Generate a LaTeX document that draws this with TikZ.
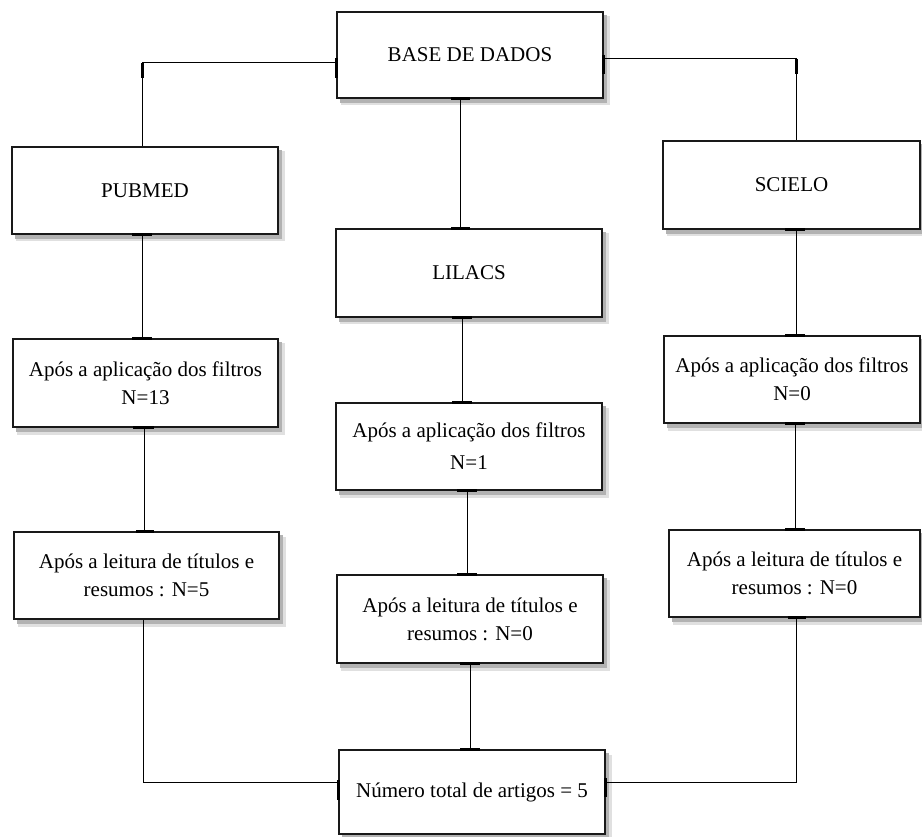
\documentclass[tikz,border=0pt]{standalone}
\usepackage{fontspec}
\setmainfont{Liberation Serif}
\begin{document}
\begin{tikzpicture}[x=1pt,y=-1pt,
  box/.style={draw=black!90, line width=1.6pt, fill=white, align=center, inner sep=2pt,
    font=\fontsize{21}{28}\selectfont,
    preaction={draw=black!12, fill=black!12, line width=3pt, transform canvas={shift={(5pt,-6pt)}}},
    preaction={draw=black!30, fill=black!30, line width=1.6pt, transform canvas={shift={(3.5pt,-4pt)}}}},
  conn/.style={draw=black, line width=1pt},
  tk/.style={draw=black, line width=3pt}]
\useasboundingbox (0,0) rectangle (922,837);
\coordinate (cl) at (142,63);
\coordinate (cr) at (796,59);
\coordinate (bl) at (143,782);
\coordinate (br) at (796,782);
\node[box, minimum width=266pt, minimum height=86pt] (base) at (470,55) {BASE DE DADOS};
\node[box, minimum width=266pt, minimum height=87pt] (pubmed) at (145,190.5) {PUBMED};
\node[box, minimum width=266pt, minimum height=88pt] (lilacs) at (469,273) {LILACS};
\node[box, minimum width=257pt, minimum height=88pt] (scielo) at (791.5,185) {SCIELO};
\node[box, minimum width=265pt, minimum height=88pt] (pf) at (145.5,383) {Após a aplicação dos filtros\\N=13};
\node[box, minimum width=266pt, minimum height=87pt, font=\fontsize{21}{32}\selectfont] (lf) at (469,446.5) {Após a aplicação dos filtros\\N=1};
\node[box, minimum width=256pt, minimum height=87pt] (sf) at (792,379.5) {Após a aplicação dos filtros\\N=0};
\node[box, minimum width=265pt, minimum height=87pt] (pl) at (146.5,575.5) {Após a leitura de títulos e\\resumos : N=5};
\node[box, minimum width=266pt, minimum height=88pt] (ll) at (470,619) {Após a leitura de títulos e\\resumos : N=0};
\node[box, minimum width=251pt, minimum height=87pt] (sl) at (794.5,573.5) {Após a leitura de títulos e\\resumos : N=0};
\node[box, minimum width=266pt, minimum height=84pt] (total) at (472,792) {Número total de artigos = 5};
% connectors
\draw[conn] (base.west |- cl) -- (cl) -- (cl |- pubmed.north);
\draw[conn] (base.east |- cr) -- (cr) -- (cr |- scielo.north);
\draw[conn] (460,0 |- base.south) -- (460,0 |- lilacs.north);
\draw[conn] (142,0 |- pubmed.south) -- (142,0 |- pf.north);
\draw[conn] (144,0 |- pf.south) -- (144,0 |- pl.north);
\draw[conn] (bl |- pl.south) -- (bl) -- (total.west |- bl);
\draw[conn] (462,0 |- lilacs.south) -- (462,0 |- lf.north);
\draw[conn] (467,0 |- lf.south) -- (467,0 |- ll.north);
\draw[conn] (470,0 |- ll.south) -- (470,0 |- total.north);
\draw[conn] (796,0 |- scielo.south) -- (796,0 |- sf.north);
\draw[conn] (795,0 |- sf.south) -- (795,0 |- sl.north);
\draw[conn] (br |- sl.south) -- (br) -- (total.east |- br);
% ticks
\draw[tk] (base.west |- 0,58) -- (base.west |- 0,78);
\draw[tk] (base.east |- 0,55) -- (base.east |- 0,74);
\draw[tk] (cl) -- ++(0,15);
\draw[tk] (cr) -- ++(0,15);
\draw[tk] (451,0 |- base.south) -- (470,0 |- base.south);
\draw[tk] (451,0 |- lilacs.north) -- (470,0 |- lilacs.north);
\draw[tk] (452,0 |- lilacs.south) -- (472,0 |- lilacs.south);
\draw[tk] (452,0 |- lf.north) -- (472,0 |- lf.north);
\draw[tk] (457,0 |- lf.south) -- (477,0 |- lf.south);
\draw[tk] (457,0 |- ll.north) -- (477,0 |- ll.north);
\draw[tk] (460,0 |- ll.south) -- (480,0 |- ll.south);
\draw[tk] (460,0 |- total.north) -- (480,0 |- total.north);
\draw[tk] (132,0 |- pubmed.south) -- (152,0 |- pubmed.south);
\draw[tk] (132,0 |- pf.north) -- (152,0 |- pf.north);
\draw[tk] (133,0 |- pf.south) -- (154,0 |- pf.south);
\draw[tk] (136,0 |- pl.north) -- (154,0 |- pl.north);
\draw[tk] (785,0 |- scielo.south) -- (805,0 |- scielo.south);
\draw[tk] (785,0 |- sf.north) -- (805,0 |- sf.north);
\draw[tk] (785,0 |- sf.south) -- (805,0 |- sf.south);
\draw[tk] (785,0 |- sl.north) -- (805,0 |- sl.north);
\draw[tk] (788,0 |- sl.south) -- (806,0 |- sl.south);
\draw[tk] (total.west |- 0,780) -- (total.west |- 0,800);
\draw[tk] (total.east |- 0,778) -- (total.east |- 0,797);
\end{tikzpicture}
\end{document}
